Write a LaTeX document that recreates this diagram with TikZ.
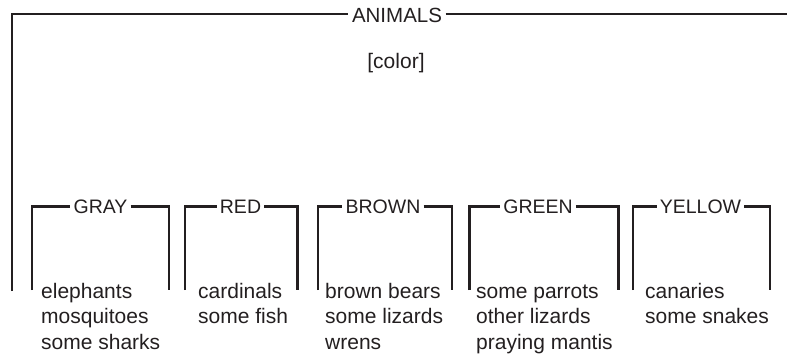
\documentclass[tikz,border=0pt]{standalone}
\usepackage{fontspec}
\setmainfont{Liberation Sans}
\definecolor{ink}{HTML}{231F20}
\begin{document}
\begin{tikzpicture}[x=1pt,y=-1pt,
  bline/.style={draw=ink,line width=2.4pt,line cap=butt,line join=miter},
  title/.style={text=ink,inner xsep=3.5pt,inner ysep=0pt,anchor=base,font=\fontsize{20.5}{24}\selectfont},
  lab/.style={text=ink,inner xsep=3pt,inner ysep=0pt,anchor=base,font=\fontsize{19.5}{23}\selectfont},
  item/.style={text=ink,inner sep=0pt,anchor=base west,font=\fontsize{21}{25}\selectfont}]
\useasboundingbox (0,0) rectangle (787,356);
% top bracket
\node[title] (animals) at (397,23) {ANIMALS};
\coordinate (tl) at (12,14);
\coordinate (bl) at (12,291);
\coordinate (tr) at (787,14);
\draw[bline] (bl) -- (tl) -- (animals.west |- tl);
\draw[bline] (animals.east |- tr) -- (tr);
\node[text=ink,font=\fontsize{21}{25}\selectfont] (color) at (396,63) {[color]};
% sub brackets
\foreach \nm/\lx/\rx/\cx/\txt in {gray/32/169/100.5/GRAY, red/185/297.5/240.5/RED, brown/318/452/383/BROWN, green/469.5/618.5/538/GREEN, yellow/633/770/700.5/YELLOW}{
  \node[lab] (\nm) at (\cx,213) {\txt};
  \coordinate (\nm-tl) at (\lx,206.5);
  \coordinate (\nm-bl) at (\lx,290);
  \coordinate (\nm-tr) at (\rx,206.5);
  \coordinate (\nm-br) at (\rx,290);
  \draw[bline] (\nm-bl) -- (\nm-tl) -- (\nm.west |- \nm-tl);
  \draw[bline] (\nm.east |- \nm-tr) -- (\nm-tr) -- (\nm-br);
}
% lists
\node[item] (g1) at (41,298) {elephants};
\node[item] (g2) at (41,323.5) {mosquitoes};
\node[item] (g3) at (41,349) {some sharks};
\node[item] (r1) at (198,298) {cardinals};
\node[item] (r2) at (198,323.5) {some fish};
\node[item] (b1) at (325,298) {brown bears};
\node[item] (b2) at (325,323.5) {some lizards};
\node[item] (b3) at (325,349) {wrens};
\node[item] (n1) at (476,298) {some parrots};
\node[item] (n2) at (476,323.5) {other lizards};
\node[item] (n3) at (476,349) {praying mantis};
\node[item] (y1) at (645,298) {canaries};
\node[item] (y2) at (645,323.5) {some snakes};
\end{tikzpicture}
\end{document}
